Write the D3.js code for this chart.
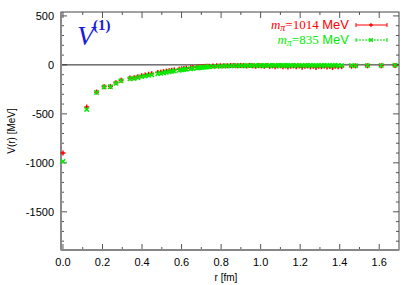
<!DOCTYPE html>
<html lang="en">
  <head>
    <meta charset="utf-8">
    <title>V1 potential</title>
    <script src="https://d3js.org/d3.v7.min.js"></script>
    <style media="screen">
      body { margin: 0; background: #fff; }
      svg text { font-family: "Liberation Sans", Arial, sans-serif; }
    </style>
  </head>
  <body>
    <div id="chart"></div>
    <script type="text/javascript">
      // r [fm] for both ensembles (lattice distances)
      let rVals = [0, 0.120, 0.170, 0.208, 0.240, 0.268, 0.294, 0.339, 0.360, 0.379,
        0.398, 0.416, 0.433, 0.449, 0.480, 0.495, 0.509, 0.523, 0.537, 0.550,
        0.563, 0.588, 0.600, 0.612, 0.624, 0.646, 0.657, 0.679, 0.689, 0.700,
        0.710, 0.720, 0.730, 0.740, 0.759, 0.778, 0.796, 0.814, 0.831, 0.849,
        0.865, 0.882, 0.898, 0.914, 0.930, 0.945, 0.960, 0.975, 0.990, 1.004,
        1.018, 1.032, 1.046, 1.060, 1.073, 1.087, 1.100, 1.113, 1.126, 1.138,
        1.152, 1.166, 1.180, 1.195, 1.210, 1.224, 1.238, 1.252, 1.266, 1.280,
        1.294, 1.308, 1.322, 1.336, 1.350, 1.364, 1.378, 1.392, 1.410, 1.460,
        1.480, 1.540, 1.610, 1.680];

      // V(r) [MeV], m_pi = 1014 MeV
      let v1014 = [-900, -430, -277, -222, -220, -183, -157, -135, -131, -121,
        -111, -103, -96, -90, -78, -74, -69, -64, -59, -55,
        -51, -44, -40, -37, -34, -29, -27, -23, -21, -19,
        -17, -15, -14, -13, -11, -10, -9, -8, -8, -7,
        -7, -9, -6, -8, -12, -6, -9, -14, -8, -10,
        -13, -7, -16, -10, -20, -12, -9, -18, -11, -22,
        -14, -10, -19, -12, -24, -15, -11, -20, -13, -26,
        -14, -18, -12, -22, -16, -27, -13, -20, -18, -14,
        -10, -9, -8, -6];

      // V(r) [MeV], m_pi = 835 MeV
      let v835 = [-985, -455, -282, -226, -224, -188, -163, -142, -138, -129,
        -120, -113, -107, -101, -90, -85, -80, -75, -70, -66,
        -62, -55, -51, -48, -44, -39, -36, -31, -29, -27,
        -25, -23, -21, -19, -17, -15, -13, -12, -11, -10,
        -9, -9, -8, -8, -7, -7, -7, -6, -6, -6,
        -6, -5, -6, -5, -6, -5, -5, -6, -5, -6,
        -5, -5, -6, -5, -5, -6, -5, -5, -6, -5,
        -5, -6, -5, -5, -6, -5, -5, -6, -7, -6,
        -8, -7, -6, -3];

      let xTicks = [0.0, 0.2, 0.4, 0.6, 0.8, 1.0, 1.2, 1.4, 1.6];
      let yTicks = [500, 0, -500, -1000, -1500];

      let w = 407, h = 285;
      let pLeft = 61, pRight = 399, pTop = 12, pBottom = 250;

      let x = d3.scaleLinear().domain([-0.01, 1.7]).range([pLeft, pRight]);
      let y = d3.scaleLinear().domain([-1890, 540]).range([pBottom, pTop]);

      let svg = d3.select("#chart").append("svg")
        .attr("width", w).attr("height", h);

      // minor + major ticks, inward, on all four sides
      let xMinor = d3.range(0, 1.7, 0.1);
      let yMinor = d3.range(-1800, 541, 100);
      let tickG = svg.append("g").attr("stroke", "#555").attr("stroke-width", 1);

      xMinor.forEach(function(v) {
        let major = xTicks.some(t => Math.abs(t - v) < 1e-6);
        let len = major ? 6 : 3;
        tickG.append("line").attr("x1", x(v)).attr("x2", x(v))
          .attr("y1", pBottom).attr("y2", pBottom - len);
        tickG.append("line").attr("x1", x(v)).attr("x2", x(v))
          .attr("y1", pTop).attr("y2", pTop + len);
      });
      yMinor.forEach(function(v) {
        let major = yTicks.indexOf(v) >= 0;
        let len = major ? 6 : 3;
        tickG.append("line").attr("y1", y(v)).attr("y2", y(v))
          .attr("x1", pLeft).attr("x2", pLeft + len);
        tickG.append("line").attr("y1", y(v)).attr("y2", y(v))
          .attr("x1", pRight).attr("x2", pRight - len);
      });

      // zero line
      svg.append("line")
        .attr("x1", pLeft).attr("x2", pRight)
        .attr("y1", y(0)).attr("y2", y(0))
        .attr("stroke", "#222").attr("stroke-width", 1);

      // frame
      svg.append("rect")
        .attr("x", pLeft).attr("y", pTop)
        .attr("width", pRight - pLeft).attr("height", pBottom - pTop)
        .attr("fill", "none").attr("stroke", "#444").attr("stroke-width", 1);
      svg.append("line").attr("x1", pLeft).attr("x2", pLeft)
        .attr("y1", pTop).attr("y2", pBottom)
        .attr("stroke", "#888").attr("stroke-width", 2);
      svg.append("line").attr("x1", pLeft).attr("x2", pRight)
        .attr("y1", pBottom).attr("y2", pBottom)
        .attr("stroke", "#888").attr("stroke-width", 2);

      // tick labels
      svg.selectAll("text.xt").data(xTicks).enter().append("text")
        .attr("class", "xt")
        .attr("x", d => x(d)).attr("y", 266)
        .attr("text-anchor", "middle").attr("font-size", "11px")
        .text(d => d.toFixed(1));
      svg.selectAll("text.yt").data(yTicks).enter().append("text")
        .attr("class", "yt")
        .attr("x", 54).attr("y", d => y(d) + 4)
        .attr("text-anchor", "end").attr("font-size", "11px")
        .text(d => d);

      // axis titles
      svg.append("text").attr("x", 226).attr("y", 281)
        .attr("text-anchor", "middle").attr("font-size", "10px").text("r [fm]");
      svg.append("text")
        .attr("transform", "translate(15," + 131 + ") rotate(-90)")
        .attr("text-anchor", "middle").attr("font-size", "10px").text("V(r) [MeV]");

      // markers
      function plus(g, cx, cy, s, col) {
        g.append("line").attr("x1", cx - s).attr("x2", cx + s).attr("y1", cy).attr("y2", cy)
          .attr("stroke", col).attr("stroke-width", 1.5);
        g.append("line").attr("x1", cx).attr("x2", cx).attr("y1", cy - s).attr("y2", cy + s)
          .attr("stroke", col).attr("stroke-width", 1.5);
      }
      function cross(g, cx, cy, s, col) {
        g.append("line").attr("x1", cx - s).attr("x2", cx + s).attr("y1", cy - s).attr("y2", cy + s)
          .attr("stroke", col).attr("stroke-width", 1.5);
        g.append("line").attr("x1", cx - s).attr("x2", cx + s).attr("y1", cy + s).attr("y2", cy - s)
          .attr("stroke", col).attr("stroke-width", 1.5);
      }

      let red = "#ff0000", green = "#00ee00";
      let gRed = svg.append("g");
      rVals.forEach(function(r, i) { plus(gRed, x(r), y(v1014[i]), 2.5, red); });
      let gGreen = svg.append("g");
      rVals.forEach(function(r, i) { cross(gGreen, x(r), y(v835[i]), 2.2, green); });

      // legend
      let serif = "'Liberation Serif', 'Times New Roman', serif";
      let legend = [
        { label: "1014", col: red, yy: 25, dash: null, mark: plus },
        { label: "835", col: green, yy: 40, dash: "2,1", mark: cross }
      ];
      legend.forEach(function(d) {
        let t = svg.append("text").attr("x", 349).attr("y", d.yy + 4)
          .attr("text-anchor", "end").attr("fill", d.col).style("font-size", "13px");
        t.append("tspan").style("font-family", serif)
          .style("font-style", "italic").text("m");
        t.append("tspan").style("font-family", serif)
          .style("font-style", "italic").style("font-size", "10px").attr("dy", 2).text("π");
        t.append("tspan").style("font-family", serif)
          .attr("dy", -2).text("=" + d.label);
        t.append("tspan").text(" MeV");
        svg.append("line").attr("x1", 356).attr("x2", 387)
          .attr("y1", d.yy).attr("y2", d.yy).attr("stroke", d.col)
          .attr("stroke-dasharray", d.dash).attr("stroke-width", 1);
        [356, 387].forEach(function(ex) {
          svg.append("line").attr("x1", ex).attr("x2", ex)
            .attr("y1", d.yy - 2).attr("y2", d.yy + 2).attr("stroke", d.col);
        });
        d.mark(svg, 371, d.yy, 1.8, d.col);
      });

      // panel label V^(1)
      let vl = svg.append("text").attr("x", 77).attr("y", 45)
        .attr("fill", "#1a1adf").style("font-family", serif);
      vl.append("tspan").style("font-style", "italic").style("font-size", "28px").text("V");
      vl.append("tspan").style("font-size", "15px").style("font-weight", "bold")
        .attr("dy", -15).attr("dx", -1).text("(1)");
    </script>
  </body>
</html>
